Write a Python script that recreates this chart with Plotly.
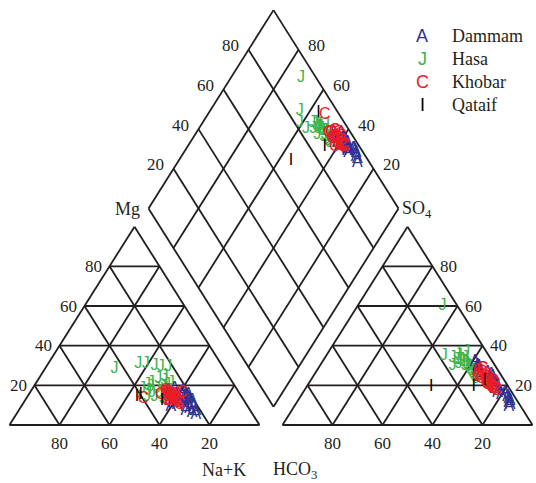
import math
import plotly.graph_objects as go

# ---------------- data (percent of meq/L) ----------------
dammam_na  = [62,58,65,60,68,55,63,70,66,59,61,64,67,57,72,60,63,69,56,65,62,71,58,66,64,60,67,61]
dammam_mg  = [12,15,10,14, 8,17,11, 6, 9,13,16,12, 7,18, 5,11,14, 9,15,13,10, 7,12,11,15, 9,12,17]
dammam_so4 = [20,24,18,26,14,30,22,10,16,28,21,19,12,32, 9,23,25,13,27,17,20,11,29,15,22,18,16,24]
dammam_cl  = [75,72,76,69,83,63,73,86,78,64,75,76,85,61,86,71,71,84,65,78,74,85,64,80,73,76,81,67]

hasa_na  = [28,36,39,43,46,49,46,48,52,54,55,55,48,50,45,52,47,53,51,49,56,44,50,53,47,51]
hasa_mg  = [28,31,31,30,29,29,21,23,19,21,15,13,14,18,20,16,17,18,22,16,17,18,24,20,19,14]
hasa_so4 = [60,34,35,30,33,31,36,33,30,28,26,24,29,32,35,27,31,25,34,30,23,33,37,29,32,27]
hasa_cl  = [34,51,47,53,53,55,52,55,58,61,63,65,60,57,53,62,58,64,56,59,66,54,55,60,56,63]

khobar_na  = [58,55,60,57,62,54,59,61,56,63,58,60,55,57,59,62,56,60,47,53,58,61]
khobar_mg  = [14,16,12,15,11,17,13,12,15,10,14,13,16,12,15,11,14,13,13,15,12,16]
khobar_so4 = [22,25,20,24,18,27,21,19,23,17,26,20,28,22,24,19,21,23,28,25,20,18]
khobar_cl  = [71,69,72,69,76,65,74,74,68,77,67,72,66,73,66,74,71,71,66,66,75,75]

qataif_na  = [45,44,55]
qataif_mg  = [15,14,12]
qataif_so4 = [19,22,19]
qataif_cl  = [50,70,67]

groups = ["Dammam", "Hasa", "Khobar", "Qataif"]
symbols = ["A", "J", "C", "I"]
colors = ["#2e3192", "#3cb44b", "#ed1c24", "#000000"]

tick_values = [20, 40, 60, 80]

# ---------------- geometry ----------------
H = math.sqrt(3) / 2
G = 0.092      # gap between triangles
DX = 0.01      # small shift of the diamond
LINE = "#231f20"


def cation_xy(na, mg):
    return [n / 100 + m / 200 for n, m in zip(na, mg)], [m / 100 * H for m in mg]


def anion_xy(so4, cl):
    return ([1 + G + c / 100 + s / 200 for s, c in zip(so4, cl)],
            [s / 100 * H for s in so4])


def diamond_xy(na, so4, cl):
    xs, ys = [], []
    for n, s, c in zip(na, so4, cl):
        n, cs = n / 100, (s + c) / 100
        xs.append(0.5 * (1 + G) + 0.5 * (n + cs) + DX)
        ys.append(H * (1 + G + cs - n))
    return xs, ys


lx, ly = [], []


def seg(p, q):
    lx.extend([p[0], q[0], None])
    ly.extend([p[1], q[1], None])


fr = [t / 100 for t in tick_values]
for off in (0.0, 1 + G):
    seg((off, 0), (off + 1, 0))
    seg((off + 1, 0), (off + 0.5, H))
    seg((off + 0.5, H), (off, 0))
    for f in fr:
        seg((off + f / 2, f * H), (off + 1 - f / 2, f * H))
        seg((off + f, 0), (off + (1 + f) / 2, (1 - f) * H))
        seg((off + f, 0), (off + f / 2, f * H))

B = (1 + G / 2 + DX, G * H)
L = (0.5 + G / 2 + DX, (1 + G) * H)
T = (1 + G / 2 + DX, (2 + G) * H)
R = (1.5 + G / 2 + DX, (1 + G) * H)
for p, q in ((B, L), (L, T), (T, R), (R, B)):
    seg(p, q)
for f in fr:
    p = (B[0] + f * (R[0] - B[0]), B[1] + f * (R[1] - B[1]))
    seg(p, (p[0] + L[0] - B[0], p[1] + L[1] - B[1]))
    p = (B[0] + f * (L[0] - B[0]), B[1] + f * (L[1] - B[1]))
    seg(p, (p[0] + R[0] - B[0], p[1] + R[1] - B[1]))

fig = go.Figure()
fig.add_trace(go.Scatter(x=lx, y=ly, mode="lines",
                         line=dict(color=LINE, width=1.8), hoverinfo="skip"))

data = {
    "Dammam": (dammam_na, dammam_mg, dammam_so4, dammam_cl),
    "Hasa": (hasa_na, hasa_mg, hasa_so4, hasa_cl),
    "Khobar": (khobar_na, khobar_mg, khobar_so4, khobar_cl),
    "Qataif": (qataif_na, qataif_mg, qataif_so4, qataif_cl),
}
order = ["Hasa", "Dammam", "Khobar", "Qataif"]
for name in order:
    i = groups.index(name)
    na, mg, so4, cl = data[name]
    xs, ys = [], []
    for fx, fy in (cation_xy(na, mg), anion_xy(so4, cl), diamond_xy(na, so4, cl)):
        xs += fx
        ys += fy
    fig.add_trace(go.Scatter(
        x=xs, y=ys, mode="text", text=[symbols[i]] * len(xs), name=name,
        textposition="middle center",
        textfont=dict(family="Liberation Sans", size=16, color=colors[i]),
        hoverinfo="skip"))

SERIF = "Liberation Serif"
TXT = "#231f20"
ann = []


def lab(x, y, text, xs=0, ys=0, size=17):
    ann.append(dict(x=x, y=y, xref="x", yref="y", text=text, showarrow=False,
                    xshift=xs, yshift=ys, font=dict(family=SERIF, size=size, color=TXT)))


for v in tick_values:
    f = v / 100
    lab(f / 2, f * H, str(v), xs=-16)                       # Mg side
    lab(f, 0, str(100 - v), ys=-18)                          # cation base
    lab(1 + G + f, 0, str(100 - v), ys=-18)                  # anion base
    lab(2 + G - f / 2, f * H, str(v), xs=16)                 # SO4 side
    lab(L[0] + f * (T[0] - L[0]), L[1] + f * (T[1] - L[1]), str(v), xs=-18, ys=4)
    lab(R[0] + f * (T[0] - R[0]), R[1] + f * (T[1] - R[1]), str(v), xs=18, ys=4)


def plab(px, py, text, size=18, anchor="center", color=TXT, family=SERIF):
    ann.append(dict(x=px / 536, y=1 - py / 483, xref="paper", yref="paper",
                    text=text, showarrow=False, xanchor=anchor, yanchor="middle",
                    font=dict(family=family, size=size, color=color)))


plab(127, 209, "Mg")
plab(417, 210, "SO<sub>4</sub>")
plab(224, 470, "Na+K")
plab(295, 470, "HCO<sub>3</sub>")

for k, (g, s, c) in enumerate(zip(groups, symbols, colors)):
    py = 36 + k * 23
    plab(422, py, s, size=18, color=c, family="Liberation Sans")
    plab(450, py, g, size=18, anchor="left")

fig.update_layout(
    width=536, height=483, margin=dict(l=0, r=0, t=0, b=0),
    paper_bgcolor="white", plot_bgcolor="white", showlegend=False,
    xaxis=dict(range=[-9.5 / 250, (536 - 9.5) / 250], visible=False, fixedrange=True),
    yaxis=dict(range=[-58 / 229, 425 / 229], visible=False, fixedrange=True),
    annotations=ann,
)
fig.write_html("out.html")
